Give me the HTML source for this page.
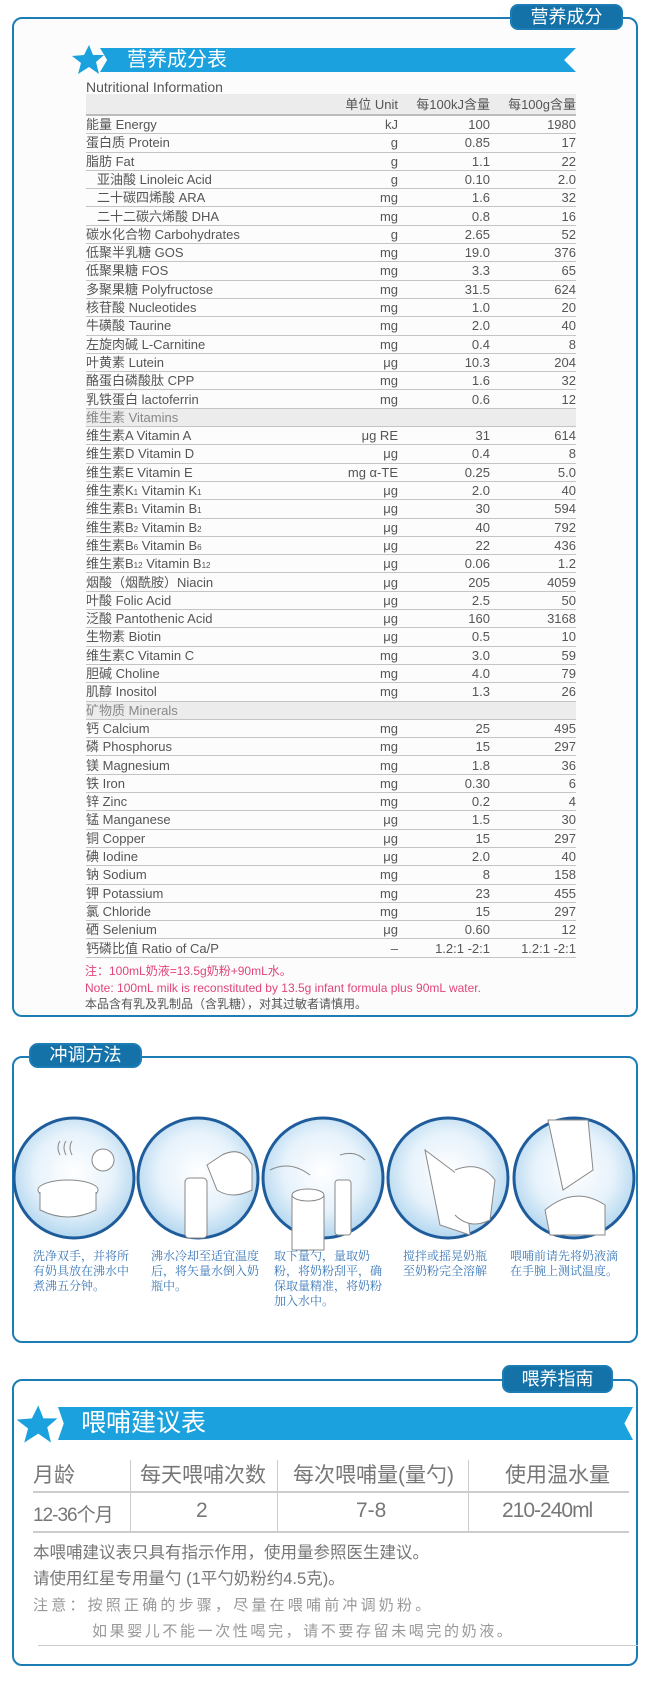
<!DOCTYPE html>
<html><head><meta charset="utf-8">
<style>
*{margin:0;padding:0;box-sizing:border-box}
body{width:650px;height:1685px;background:#fff;position:relative;font-family:"Liberation Sans Narrow","Liberation Sans","Noto Sans CJK SC",sans-serif;overflow:hidden}
.abs{position:absolute}
.box{position:absolute;border:2.5px solid #1b7db4;border-radius:10px}
.tab{position:absolute;background:#1472a8;color:#fff;border-radius:8px;text-align:center;font-family:"Liberation Sans","Noto Sans CJK SC",sans-serif;border:2px solid #1b7db4}
.banner{position:absolute;background:#1ba1dd;color:#fff;font-family:"Liberation Sans","Noto Sans CJK SC",sans-serif}
.row{position:absolute;left:86px;width:490px;height:18.3px;border-bottom:1.5px solid #c4c4c4;font-size:13px;color:#555;line-height:18px}
.row > span{position:absolute;top:0;white-space:nowrap}
.n{left:0}.i{left:11px}
.u{right:178px}.a{right:86px}.b{right:0}
.g{background:#ececec}
.sub{font-size:8px;position:static}
.cap{position:absolute;font-family:"Noto Serif CJK SC","Liberation Serif",serif;font-size:12px;line-height:15px;color:#3a78b8}
.ft{position:absolute;left:33px;color:#777;font-family:"Liberation Sans","Noto Sans CJK SC",sans-serif;white-space:nowrap}
</style></head><body>

<!-- Section 1 -->
<div class="box" style="left:12px;top:17px;width:626px;height:1000px;background:#fcfcfd"></div>
<div class="tab" style="left:510px;top:4px;width:113px;height:26px;font-size:18px;line-height:22px">营养成分</div>
<div class="banner" style="left:100px;top:48px;width:476px;height:24px;font-size:20px;line-height:24px;padding-left:27px;clip-path:polygon(0 0,100% 0,97.5% 50%,100% 100%,0 100%,1.5% 50%)">营养成分表</div>
<svg class="abs" style="left:70px;top:43px" width="36" height="36" viewBox="0 0 36 36"><polygon points="19,2 23,12 34,12 26,19 29,31 19,24 8,31 11,20 2,13 14,12" fill="#1ba1dd"/></svg>
<div class="abs" style="left:86px;top:79px;font-size:14px;color:#555">Nutritional Information</div>
<div class="abs" style="left:86px;top:94px;width:490px;border-top:1.5px solid #bbb"></div>
<div class="row g" style="top:94px;height:22px;line-height:22px;border-bottom:2px solid #bbb"><span class="u">单位 Unit</span><span class="a">每100kJ含量</span><span class="b">每100g含量</span></div>

<div class="row" style="top:116px"><span class="n">能量 Energy</span><span class="u">kJ</span><span class="a">100</span><span class="b">1980</span></div>
<div class="row" style="top:134.3px"><span class="n">蛋白质 Protein</span><span class="u">g</span><span class="a">0.85</span><span class="b">17</span></div>
<div class="row" style="top:152.6px"><span class="n">脂肪 Fat</span><span class="u">g</span><span class="a">1.1</span><span class="b">22</span></div>
<div class="row" style="top:170.9px"><span class="i">亚油酸 Linoleic Acid</span><span class="u">g</span><span class="a">0.10</span><span class="b">2.0</span></div>
<div class="row" style="top:189.2px"><span class="i">二十碳四烯酸 ARA</span><span class="u">mg</span><span class="a">1.6</span><span class="b">32</span></div>
<div class="row" style="top:207.5px"><span class="i">二十二碳六烯酸 DHA</span><span class="u">mg</span><span class="a">0.8</span><span class="b">16</span></div>
<div class="row" style="top:225.8px"><span class="n">碳水化合物 Carbohydrates</span><span class="u">g</span><span class="a">2.65</span><span class="b">52</span></div>
<div class="row" style="top:244.1px"><span class="n">低聚半乳糖 GOS</span><span class="u">mg</span><span class="a">19.0</span><span class="b">376</span></div>
<div class="row" style="top:262.4px"><span class="n">低聚果糖 FOS</span><span class="u">mg</span><span class="a">3.3</span><span class="b">65</span></div>
<div class="row" style="top:280.7px"><span class="n">多聚果糖 Polyfructose</span><span class="u">mg</span><span class="a">31.5</span><span class="b">624</span></div>
<div class="row" style="top:299px"><span class="n">核苷酸 Nucleotides</span><span class="u">mg</span><span class="a">1.0</span><span class="b">20</span></div>
<div class="row" style="top:317.3px"><span class="n">牛磺酸 Taurine</span><span class="u">mg</span><span class="a">2.0</span><span class="b">40</span></div>
<div class="row" style="top:335.6px"><span class="n">左旋肉碱 L-Carnitine</span><span class="u">mg</span><span class="a">0.4</span><span class="b">8</span></div>
<div class="row" style="top:353.9px"><span class="n">叶黄素 Lutein</span><span class="u">μg</span><span class="a">10.3</span><span class="b">204</span></div>
<div class="row" style="top:372.2px"><span class="n">酪蛋白磷酸肽 CPP</span><span class="u">mg</span><span class="a">1.6</span><span class="b">32</span></div>
<div class="row" style="top:390.5px"><span class="n">乳铁蛋白 lactoferrin</span><span class="u">mg</span><span class="a">0.6</span><span class="b">12</span></div>
<div class="row g" style="top:408.8px;color:#888"><span class="n">维生素 Vitamins</span></div>
<div class="row" style="top:427.1px"><span class="n">维生素A Vitamin A</span><span class="u">μg RE</span><span class="a">31</span><span class="b">614</span></div>
<div class="row" style="top:445.4px"><span class="n">维生素D Vitamin D</span><span class="u">μg</span><span class="a">0.4</span><span class="b">8</span></div>
<div class="row" style="top:463.7px"><span class="n">维生素E Vitamin E</span><span class="u">mg α-TE</span><span class="a">0.25</span><span class="b">5.0</span></div>
<div class="row" style="top:482px"><span class="n">维生素K<span class="sub">1</span> Vitamin K<span class="sub">1</span></span><span class="u">μg</span><span class="a">2.0</span><span class="b">40</span></div>
<div class="row" style="top:500.3px"><span class="n">维生素B<span class="sub">1</span> Vitamin B<span class="sub">1</span></span><span class="u">μg</span><span class="a">30</span><span class="b">594</span></div>
<div class="row" style="top:518.6px"><span class="n">维生素B<span class="sub">2</span> Vitamin B<span class="sub">2</span></span><span class="u">μg</span><span class="a">40</span><span class="b">792</span></div>
<div class="row" style="top:536.9px"><span class="n">维生素B<span class="sub">6</span> Vitamin B<span class="sub">6</span></span><span class="u">μg</span><span class="a">22</span><span class="b">436</span></div>
<div class="row" style="top:555.2px"><span class="n">维生素B<span class="sub">12</span> Vitamin B<span class="sub">12</span></span><span class="u">μg</span><span class="a">0.06</span><span class="b">1.2</span></div>
<div class="row" style="top:573.5px"><span class="n">烟酸（烟酰胺）Niacin</span><span class="u">μg</span><span class="a">205</span><span class="b">4059</span></div>
<div class="row" style="top:591.8px"><span class="n">叶酸 Folic Acid</span><span class="u">μg</span><span class="a">2.5</span><span class="b">50</span></div>
<div class="row" style="top:610.1px"><span class="n">泛酸 Pantothenic Acid</span><span class="u">μg</span><span class="a">160</span><span class="b">3168</span></div>
<div class="row" style="top:628.4px"><span class="n">生物素 Biotin</span><span class="u">μg</span><span class="a">0.5</span><span class="b">10</span></div>
<div class="row" style="top:646.7px"><span class="n">维生素C Vitamin C</span><span class="u">mg</span><span class="a">3.0</span><span class="b">59</span></div>
<div class="row" style="top:665px"><span class="n">胆碱 Choline</span><span class="u">mg</span><span class="a">4.0</span><span class="b">79</span></div>
<div class="row" style="top:683.3px"><span class="n">肌醇 Inositol</span><span class="u">mg</span><span class="a">1.3</span><span class="b">26</span></div>
<div class="row g" style="top:701.6px;color:#888"><span class="n">矿物质 Minerals</span></div>
<div class="row" style="top:719.9px"><span class="n">钙 Calcium</span><span class="u">mg</span><span class="a">25</span><span class="b">495</span></div>
<div class="row" style="top:738.2px"><span class="n">磷 Phosphorus</span><span class="u">mg</span><span class="a">15</span><span class="b">297</span></div>
<div class="row" style="top:756.5px"><span class="n">镁 Magnesium</span><span class="u">mg</span><span class="a">1.8</span><span class="b">36</span></div>
<div class="row" style="top:774.8px"><span class="n">铁 Iron</span><span class="u">mg</span><span class="a">0.30</span><span class="b">6</span></div>
<div class="row" style="top:793.1px"><span class="n">锌 Zinc</span><span class="u">mg</span><span class="a">0.2</span><span class="b">4</span></div>
<div class="row" style="top:811.4px"><span class="n">锰 Manganese</span><span class="u">μg</span><span class="a">1.5</span><span class="b">30</span></div>
<div class="row" style="top:829.7px"><span class="n">铜 Copper</span><span class="u">μg</span><span class="a">15</span><span class="b">297</span></div>
<div class="row" style="top:848px"><span class="n">碘 Iodine</span><span class="u">μg</span><span class="a">2.0</span><span class="b">40</span></div>
<div class="row" style="top:866.3px"><span class="n">钠 Sodium</span><span class="u">mg</span><span class="a">8</span><span class="b">158</span></div>
<div class="row" style="top:884.6px"><span class="n">钾 Potassium</span><span class="u">mg</span><span class="a">23</span><span class="b">455</span></div>
<div class="row" style="top:902.9px"><span class="n">氯 Chloride</span><span class="u">mg</span><span class="a">15</span><span class="b">297</span></div>
<div class="row" style="top:921.2px"><span class="n">硒 Selenium</span><span class="u">μg</span><span class="a">0.60</span><span class="b">12</span></div>
<div class="row" style="top:939.5px"><span class="n">钙磷比值 Ratio of Ca/P</span><span class="u">–</span><span class="a">1.2:1 -2:1</span><span class="b">1.2:1 -2:1</span></div>

<div class="abs" style="left:85px;top:963px;font-size:12px;line-height:16.5px;color:#e0457a;font-family:'Liberation Sans','Noto Sans CJK SC',sans-serif;white-space:nowrap">注：100mL奶液=13.5g奶粉+90mL水。<br>Note: 100mL milk is reconstituted by 13.5g infant formula plus 90mL water.<br><span style="color:#555">本品含有乳及乳制品（含乳糖），对其过敏者请慎用。</span></div>

<!-- Section 2 -->
<div class="box" style="left:12px;top:1056px;width:626px;height:287px"></div>
<div class="tab" style="left:29px;top:1043px;width:113px;height:25px;font-size:18px;line-height:21px;border-radius:9px">冲调方法</div>
<svg class="abs" style="left:0;top:1100px" width="650" height="160">
<defs><radialGradient id="rg" cx="50%" cy="45%" r="55%"><stop offset="0" stop-color="#ffffff"/><stop offset="0.6" stop-color="#e6f2fb"/><stop offset="1" stop-color="#b4d7ef"/></radialGradient></defs>
<g stroke="#1f5c9c" stroke-width="3" fill="url(#rg)">
<circle cx="74" cy="78" r="60"/><circle cx="198" cy="78" r="60"/><circle cx="323" cy="78" r="60"/><circle cx="448" cy="78" r="60"/><circle cx="574" cy="78" r="60"/>
</g>
<g stroke="#888" stroke-width="1" fill="#fff">
<ellipse cx="68" cy="90" rx="30" ry="10"/><path d="M40 92 v18 q28 14 56 0 v-18"/><circle cx="103" cy="60" r="11"/>
<path d="M60 55 q-4 -8 0 -14 M66 55 q-4 -8 0 -14 M72 55 q-4 -8 0 -14" fill="none"/>
<rect x="185" y="78" width="22" height="60" rx="4"/><path d="M207 65 l15 -10 q20 -10 30 10 l0 25 q-20 10 -35 0z"/>
<rect x="292" y="95" width="32" height="55"/><ellipse cx="308" cy="95" rx="16" ry="6"/><rect x="335" y="80" width="16" height="55" rx="3"/><path d="M270 70 q20 -10 40 5 M340 55 q15 -5 25 5" fill="none"/>
<path d="M425 50 l40 30 l5 55 l-30 -10 z"/><path d="M455 70 q25 -10 40 10 l-5 40 q-20 10 -35 -5" />
<path d="M548 20 l40 0 l5 50 l-30 20 z"/><path d="M545 110 q30 -25 60 -5 l0 30 l-55 0 z"/>
</g>
</svg>
<div class="cap" style="left:33px;top:1248px;width:97px">洗净双手，并将所有奶具放在沸水中煮沸五分钟。</div>
<div class="cap" style="left:151px;top:1248px;width:109px">沸水冷却至适宜温度后，将矢量水倒入奶瓶中。</div>
<div class="cap" style="left:274px;top:1248px;width:109px">取下量勺，量取奶粉，将奶粉刮平，确保取量精准，将奶粉加入水中。</div>
<div class="cap" style="left:403px;top:1248px;width:85px">搅拌或摇晃奶瓶至奶粉完全溶解</div>
<div class="cap" style="left:510px;top:1248px;width:109px">喂哺前请先将奶液滴在手腕上测试温度。</div>

<!-- Section 3 -->
<div class="box" style="left:12px;top:1379px;width:626px;height:287px"></div>
<div class="tab" style="left:502px;top:1365px;width:111px;height:28px;font-size:18px;line-height:24px">喂养指南</div>
<div class="banner" style="left:58px;top:1407px;width:575px;height:33px;font-size:25px;line-height:33px;padding-left:23px;clip-path:polygon(0 0,100% 0,98.5% 50%,100% 100%,0 100%,1% 50%)">喂哺建议表</div>
<svg class="abs" style="left:14px;top:1403px" width="46" height="46" viewBox="0 0 36 36"><polygon points="19,2 23,12 34,12 26,19 29,31 19,24 8,31 11,20 2,13 14,12" fill="#1ba1dd"/></svg>
<div class="abs" style="left:33px;top:1491px;width:596px;border-top:2px solid #ccc"></div>
<div class="abs" style="left:33px;top:1531px;width:596px;border-top:2px solid #ccc"></div>
<div class="abs" style="left:130px;top:1460px;height:72px;border-left:1.5px solid #ccc"></div>
<div class="abs" style="left:277px;top:1460px;height:72px;border-left:1.5px solid #ccc"></div>
<div class="abs" style="left:468px;top:1460px;height:72px;border-left:1.5px solid #ccc"></div>
<div class="abs" style="left:33px;top:1459px;font-size:21px;color:#777;font-family:'Liberation Sans','Noto Sans CJK SC',sans-serif">月龄</div>
<div class="abs" style="left:140px;top:1459px;font-size:21px;color:#777;font-family:'Liberation Sans','Noto Sans CJK SC',sans-serif">每天喂哺次数</div>
<div class="abs" style="left:293px;top:1459px;font-size:21px;color:#777;font-family:'Liberation Sans','Noto Sans CJK SC',sans-serif">每次喂哺量(量勺)</div>
<div class="abs" style="left:505px;top:1459px;font-size:21px;color:#777;font-family:'Liberation Sans','Noto Sans CJK SC',sans-serif">使用温水量</div>
<div class="abs" style="left:33px;top:1500px;font-size:19px;letter-spacing:-1px;color:#777;font-family:'Liberation Sans','Noto Sans CJK SC',sans-serif">12-36个月</div>
<div class="abs" style="left:196px;top:1499px;font-size:21px;color:#777">2</div>
<div class="abs" style="left:356px;top:1499px;font-size:21px;color:#777">7-8</div>
<div class="abs" style="left:502px;top:1499px;font-size:21px;color:#777;letter-spacing:-1px">210-240ml</div>
<div class="ft" style="top:1542px;font-size:16.5px;line-height:22px">本喂哺建议表只具有指示作用，使用量参照医生建议。</div>
<div class="ft" style="top:1568px;font-size:16.5px;line-height:22px">请使用红星专用量勺 (1平勺奶粉约4.5克)。</div>
<div class="ft" style="top:1595px;font-size:15px;line-height:22px;letter-spacing:3.2px;color:#999">注意：按照正确的步骤，尽量在喂哺前冲调奶粉。</div>
<div class="ft" style="left:92px;top:1621px;font-size:15px;line-height:22px;letter-spacing:2.6px;color:#999">如果婴儿不能一次性喝完，请不要存留未喝完的奶液。</div>
<div class="abs" style="left:38px;top:1645px;width:600px;border-top:1.5px solid #ccc"></div>
</body></html>
